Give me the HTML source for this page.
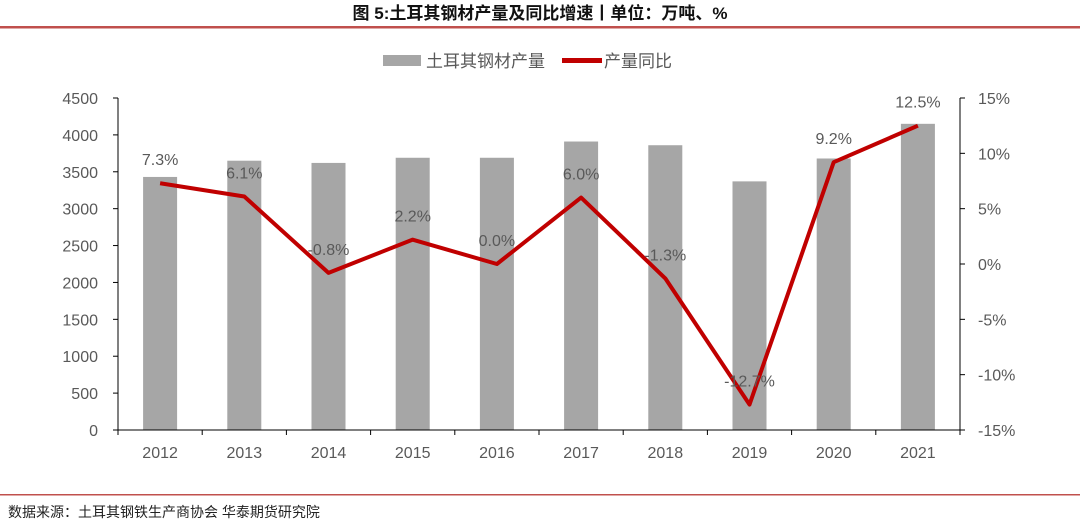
<!DOCTYPE html>
<html><head><meta charset="utf-8"><style>
body{margin:0;width:1080px;height:521px;background:#fff;overflow:hidden;font-family:"Liberation Sans","Noto Sans CJK SC",sans-serif;}
svg text{font-family:"Liberation Sans","Noto Sans CJK SC",sans-serif;}
</style></head><body>
<svg id="c" width="1080" height="521">
<text x="540" y="19" text-anchor="middle" font-size="17" font-weight="bold" fill="#111">图 5:土耳其钢材产量及同比增速丨单位：万吨、%</text>
<rect x="0" y="26" width="1080" height="2.5" fill="#c0504d"/>
<rect x="0" y="494" width="1080" height="1.5" fill="#c0504d"/>
<text x="8" y="517" font-size="14" fill="#222">数据来源：土耳其钢铁生产商协会  华泰期货研究院</text>
<g>
<rect x="383" y="55" width="38" height="11" fill="#a6a6a6"/>
<text x="426" y="67" font-size="17" fill="#595959">土耳其钢材产量</text>
<rect x="562" y="58" width="40" height="5" fill="#c00000"/>
<text x="604" y="67" font-size="17" fill="#595959">产量同比</text>
</g>
<g id="plot"></g>
</svg>
<script>
const categories=["2012","2013","2014","2015","2016","2017","2018","2019","2020","2021"];
const production=[3430,3650,3620,3690,3690,3910,3860,3370,3680,4150];
const yoy=[7.3,6.1,-0.8,2.2,0.0,6.0,-1.3,-12.7,9.2,12.5];
const leftTicks=[0,500,1000,1500,2000,2500,3000,3500,4000,4500];
const rightTicks=[-15,-10,-5,0,5,10,15];
const NS="http://www.w3.org/2000/svg";
const g=document.getElementById("plot");
const X0=118,X1=960,Y0=430,Y1=98;
const bw=(X1-X0)/categories.length;
const xc=i=>X0+bw*(i+0.5);
const yl=v=>Y0-(v/4500)*(Y0-Y1);
const yr=v=>Y0-((v+15)/30)*(Y0-Y1);
function mk(t,a,txt){const e=document.createElementNS(NS,t);for(const k in a)e.setAttribute(k,a[k]);if(txt!==undefined)e.textContent=txt;g.appendChild(e);return e;}
production.forEach((v,i)=>{
 const r=mk("rect",{x:xc(i)-17,y:yl(v),width:34,height:Y0-yl(v),fill:"#a6a6a6"});
 
 
});
let e=mk("path",{d:`M${X0} ${Y1}V${Y0}H${X1}V${Y1}`,fill:"none",stroke:"#000","stroke-width":1});


leftTicks.forEach(v=>{
 const y=yl(v);
 mk("line",{x1:X0-5,x2:X0,y1:y,y2:y,stroke:"#000"});
 const t=mk("text",{x:X0-20,y:y+6,"text-anchor":"end","font-size":16,fill:"#595959"},String(v));
 
 
});
rightTicks.forEach(v=>{
 const y=yr(v);
 mk("line",{x1:X1,x2:X1+5,y1:y,y2:y,stroke:"#000"});
 const t=mk("text",{x:X1+18,y:y+6,"font-size":16,fill:"#595959"},v+"%");
 
 
});
categories.forEach((c,i)=>{
 mk("line",{x1:X0+bw*i,x2:X0+bw*i,y1:Y0,y2:Y0+5,stroke:"#000"});
 const t=mk("text",{x:xc(i),y:Y0+28,"text-anchor":"middle","font-size":16,fill:"#595959"},c);
 
 
});
mk("line",{x1:X1,x2:X1,y1:Y0,y2:Y0+5,stroke:"#000"});
const ln=mk("polyline",{points:yoy.map((v,i)=>xc(i)+","+yr(v)).join(" "),fill:"none",stroke:"#c00000","stroke-width":4,"stroke-linejoin":"round"});


yoy.forEach((v,i)=>{
 const t=mk("text",{x:xc(i),y:yr(v)-18,"text-anchor":"middle","font-size":16,fill:"#595959"},v.toFixed(1)+"%");
 
 
});
</script>
</body></html>
